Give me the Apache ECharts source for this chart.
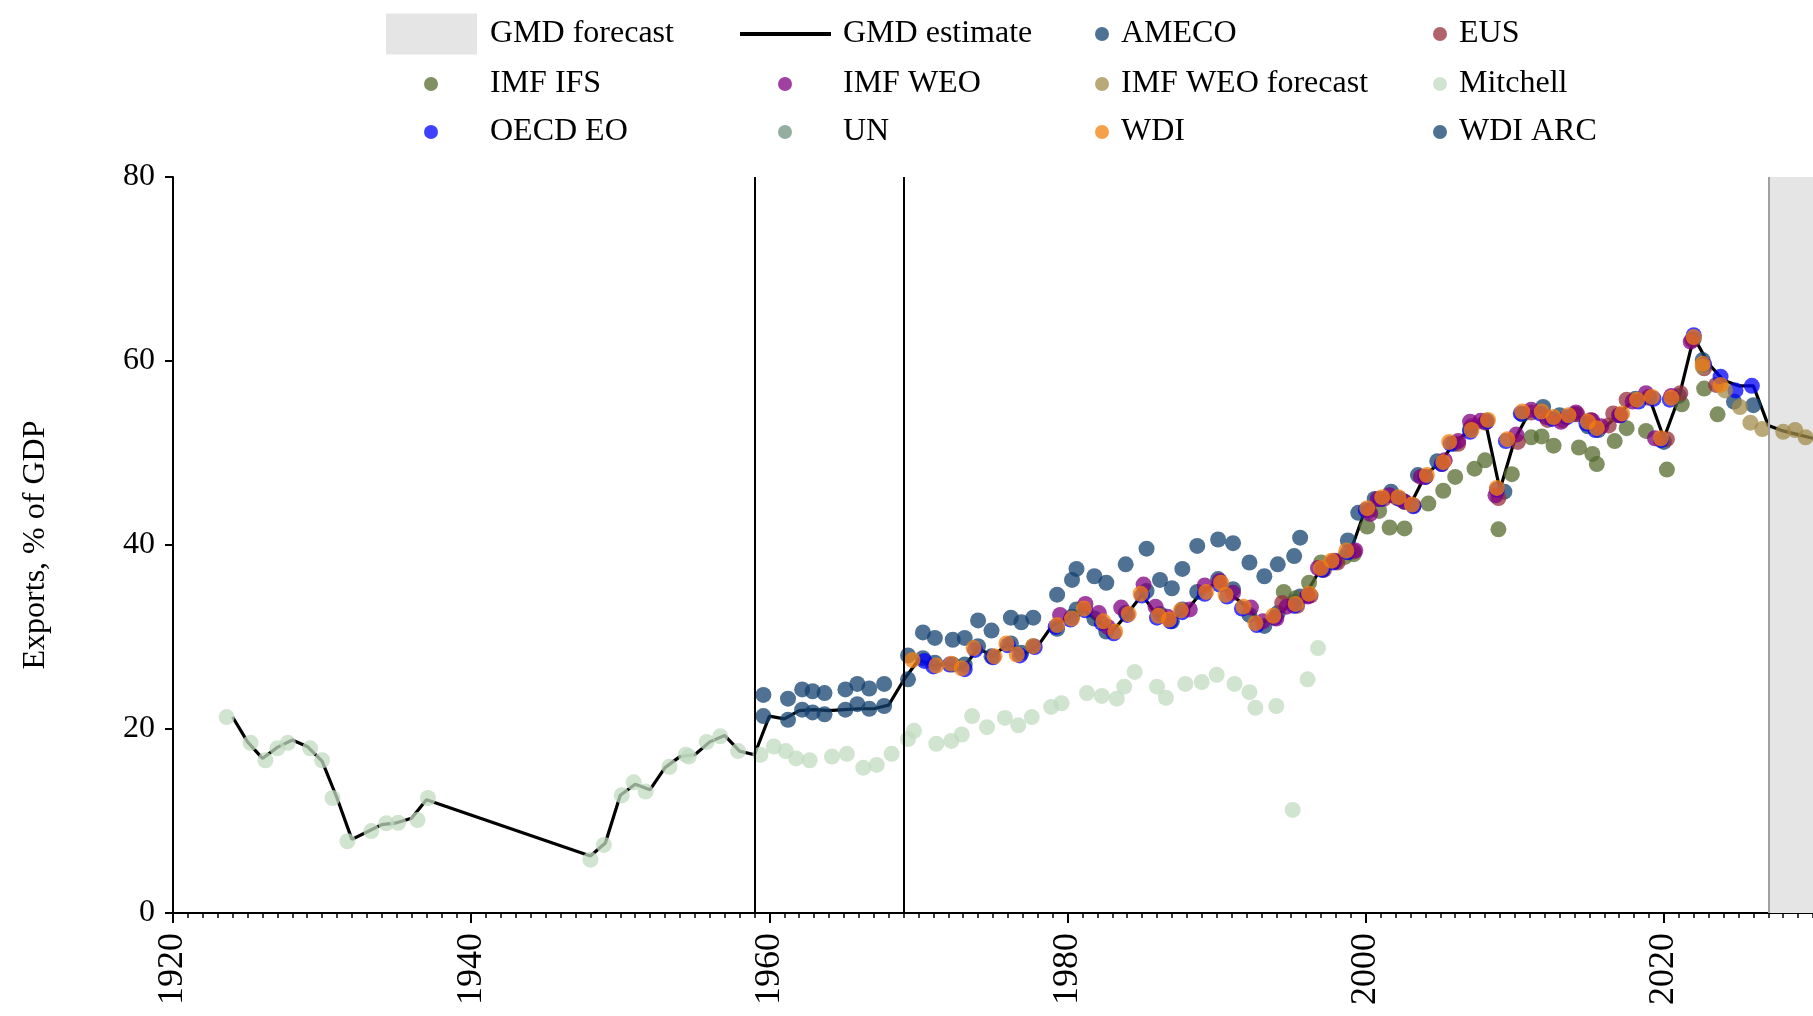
<!DOCTYPE html>
<html><head><meta charset="utf-8">
<script src="https://cdn.jsdelivr.net/npm/echarts@6/dist/echarts.min.js"></script>
<style>html,body{margin:0;padding:0;background:#fff}#c{width:1813px;height:1016px}</style>
</head><body><div id="c"></div>
<script>
// ---------------- data ----------------
const gmdYears = [1924,1925,1926,1927,1928,1929,1930,1931,1932,1933,1934,1935,1936,1937,
  1948,1949,1950,1951,1952,1953,1954,1955,1956,1957,1958,1959,
  1960,1961,1962,1963,1964,1965,1966,1967,1968,1969,1970,1971,1972,1973,1974,1975,1976,1977,1978,1979,
  1980,1981,1982,1983,1984,1985,1986,1987,1988,1989,1990,1991,1992,1993,1994,1995,1996,1997,1998,1999,
  2000,2001,2002,2003,2004,2005,2006,2007,2008,2009,2010,2011,2012,2013,2014,2015,2016,2017,2018,2019,
  2020,2021,2022,2023,2024,2025,2026,2027,2028,2029,2030];
const gmdValues = [21.3,18.6,16.8,18.0,18.8,18.1,16.5,12.5,8.0,8.8,9.6,9.8,10.3,12.3,
  6.2,7.6,12.8,14.0,13.4,15.8,17.0,17.2,18.6,19.3,17.6,17.2,
  21.4,21.1,22.0,22.1,22.0,22.1,22.2,22.2,22.6,25.3,27.5,26.9,27.1,26.6,28.8,27.9,29.3,28.1,29.0,31.3,
  32.0,33.1,31.7,30.6,32.5,34.6,32.3,31.9,32.9,34.9,35.9,34.6,33.3,31.5,32.3,33.6,34.7,37.5,38.3,39.4,
  44.0,45.2,45.2,44.4,47.6,49.0,51.2,52.5,53.6,46.0,51.5,54.5,54.5,53.9,54.1,53.4,52.7,54.3,55.8,56.1,
  51.6,56.0,62.6,59.7,57.9,57.3,57.3,53.0,52.4,52.0,51.6];

const amecoPoints = [[1959.6,23.7],[1961.25,23.3],[1962.2,24.3],[1962.9,24.1],[1963.7,23.9],[1965.1,24.3],[1965.9,24.9],[1966.7,24.4],[1967.7,24.9],[1969.3,28.0],[1970.3,30.5],[1971.1,29.9],[1972.3,29.7],[1973.1,29.9],[1974.0,31.8],[1974.9,30.7],[1976.2,32.1],[1976.9,31.6],[1977.7,32.1],[1979.3,34.6],[1980.3,36.2],[1980.6,37.4],[1981.8,36.6],[1982.6,35.9],[1983.9,37.9],[1985.3,39.6],[1986.2,36.2],[1987.0,35.3],[1987.7,37.4],[1988.7,39.9],[1990.1,40.6],[1991.1,40.2],[1992.2,38.1],[1993.2,36.6],[1994.1,37.9],[1995.2,38.8],[1995.6,40.8],[2005.9,51.0],[2007.0,52.6],[2008.1,53.5],[2009.3,45.8],[2010.5,54.2],[2011.9,55.0],[2013.0,54.1],[2014.0,54.2],[2014.9,52.9],[2015.6,52.5],[2017.0,54.1],[2018.1,55.9],[2019.0,56.1],[2020.0,51.2],[2021.0,56.2],[2022.0,62.4],[2022.6,60.1],[2024.7,55.6],[2026.0,55.2]];

const eusPoints = [[1994.4,33.7],[1995.4,33.4],[1996.3,34.5],[1997.2,37.3],[1998.1,38.1],[1999.2,39.3],[2000.2,43.7],[2001.2,45.0],[2002.1,45.1],[2003.2,44.3],[2004.0,47.4],[2005.1,48.8],[2006.2,51.0],[2007.1,52.9],[2008.0,53.3],[2008.9,45.1],[2010.2,51.2],[2011.1,54.4],[2012.2,53.6],[2013.2,53.6],[2014.2,54.2],[2015.1,53.6],[2016.3,53.0],[2016.6,54.3],[2017.5,55.8],[2019.0,56.0],[2020.2,51.5],[2021.1,56.5],[2021.9,62.3],[2022.7,59.2],[2023.5,57.4]];

const imfIfsPoints = [[1994.5,34.9],[1995.3,34.2],[1996.2,35.9],[1997.0,38.1],[1998.6,38.7],[1999.2,39.0],[2000.1,42.0],[2000.9,43.7],[2001.6,41.9],[2002.6,41.8],[2004.2,44.5],[2005.2,45.9],[2006.0,47.4],[2007.3,48.3],[2008.0,49.2],[2008.9,41.7],[2009.8,47.7],[2011.1,51.7],[2011.8,51.8],[2012.6,50.8],[2014.3,50.6],[2015.2,49.9],[2015.5,48.8],[2016.7,51.3],[2017.5,52.7],[2018.8,52.4],[2020.2,48.2],[2021.2,55.3],[2022.7,57.0],[2023.6,54.2]];

const imfWeoPoints = [[1979.5,32.4],[1981.2,33.6],[1982.1,32.6],[1982.7,31.1],[1983.6,33.2],[1985.1,35.7],[1985.9,33.3],[1986.7,32.2],[1988.2,33.0],[1989.2,35.6],[1990.2,36.1],[1991.1,34.8],[1992.3,33.2],[1993.1,31.7],[1994.0,32.0],[1994.7,33.3],[1996.1,34.4],[1996.8,37.5],[1997.9,38.3],[1999.3,39.4],[2000.3,43.4],[2000.8,45.0],[2001.6,45.4],[2002.6,44.7],[2003.7,47.4],[2005.3,49.2],[2006.2,51.3],[2007.0,53.4],[2007.7,53.5],[2008.7,45.4],[2010.1,52.0],[2011.1,54.7],[2012.1,53.9],[2013.1,53.4],[2014.1,54.4],[2015.2,53.5],[2015.8,52.9],[2017.0,54.1],[2017.9,55.6],[2018.8,56.5],[2019.4,51.6],[2020.5,56.2],[2021.8,62.1]];

const imfWeoForecastPoints = [[2022.6,59.4],[2024.1,56.8],[2025.1,55.0],[2025.8,53.3],[2026.6,52.6],[2028.0,52.3],[2028.8,52.5],[2029.5,51.7]];

const mitchellPoints = [[1923.6,21.3],[1925.2,18.5],[1926.2,16.6],[1927.0,17.9],[1927.7,18.5],[1929.2,17.9],[1930.0,16.6],[1930.7,12.5],[1931.7,7.8],[1933.3,8.9],[1934.3,9.75],[1935.1,9.8],[1936.4,10.1],[1937.1,12.5],
  [1948.0,5.8],[1948.9,7.4],[1950.1,12.8],[1950.9,14.2],[1951.7,13.2],[1953.3,15.9],[1954.4,17.2],[1954.6,17.0],[1955.8,18.6],[1956.7,19.2],[1957.9,17.6],[1959.4,17.2],
  [1960.3,18.1],[1961.1,17.6],[1961.8,16.8],[1962.7,16.6],[1964.2,17.0],[1965.2,17.3],[1966.3,15.8],[1967.2,16.1],[1968.2,17.3],[1969.3,18.9],[1969.7,19.8],[1971.2,18.4],[1972.2,18.7],[1972.9,19.4],[1973.6,21.4],[1974.6,20.2],[1975.8,21.2],[1976.7,20.4],[1977.6,21.3],[1978.9,22.4],[1979.6,22.8],[1981.3,23.9],[1982.3,23.6],[1983.3,23.3],[1983.8,24.6],[1984.5,26.2],[1986.0,24.6],[1986.6,23.4],[1987.9,24.9],[1989.0,25.1],[1990.0,25.9],[1991.2,24.9],[1992.2,24.0],[1992.6,22.3],[1994.0,22.5],[1995.1,11.2],[1996.1,25.4],[1996.8,28.8]];

const oecdEoPoints = [[1970.4,27.4],[1971.0,26.8],[1972.1,27.0],[1973.1,26.5],[1973.8,28.6],[1975.0,27.8],[1976.0,29.1],[1976.8,28.0],[1977.8,28.9],[1979.2,31.1],[1980.2,31.9],[1981.2,32.9],[1982.3,31.5],[1983.1,30.4],[1984.0,32.4],[1985.0,34.5],[1986.0,32.1],[1986.9,31.7],[1987.7,32.7],[1989.2,34.7],[1990.2,35.7],[1990.7,34.4],[1991.7,33.1],[1992.7,31.3],[1993.9,32.1],[1995.2,33.4],[1996.1,34.5],[1997.1,37.3],[1997.8,38.1],[1998.8,39.2],[2000.0,43.8],[2001.0,45.0],[2002.3,45.0],[2003.2,44.2],[2004.0,47.4],[2005.1,48.8],[2005.7,51.0],[2007.0,52.3],[2008.1,53.4],[2008.8,46.0],[2009.4,51.3],[2010.4,54.3],[2011.7,54.3],[2012.5,53.7],[2013.5,53.9],[2014.8,53.2],[2015.4,52.5],[2017.1,54.1],[2018.3,55.6],[2019.3,55.9],[2019.8,51.4],[2020.4,55.8],[2022.0,62.8],[2022.7,59.6],[2023.8,58.3],[2024.8,56.8],[2025.9,57.3]];

const unPoints = [];

const wdiPoints = [[1969.6,27.5],[1971.2,26.9],[1972.2,27.1],[1972.9,26.6],[1973.7,28.8],[1975.1,27.9],[1975.9,29.3],[1976.6,28.1],[1977.7,29.0],[1979.3,31.3],[1980.3,32.0],[1981.1,33.1],[1982.4,31.7],[1983.2,30.6],[1984.1,32.5],[1984.9,34.7],[1986.1,32.3],[1986.8,31.9],[1987.6,32.9],[1989.3,34.9],[1990.3,35.9],[1990.6,34.6],[1991.8,33.3],[1992.6,31.5],[1993.8,32.3],[1995.3,33.6],[1996.2,34.7],[1997.0,37.5],[1997.7,38.3],[1998.7,39.4],[2000.1,44.0],[2001.1,45.2],[2002.2,45.2],[2003.1,44.4],[2004.1,47.6],[2005.2,49.0],[2005.6,51.2],[2007.1,52.5],[2008.2,53.6],[2008.8,46.2],[2009.5,51.5],[2010.5,54.5],[2011.8,54.5],[2012.6,53.9],[2013.6,54.1],[2014.9,53.4],[2015.5,52.7],[2017.2,54.3],[2018.2,55.8],[2019.2,56.1],[2019.8,51.6],[2020.5,56.0],[2022.0,62.6],[2022.6,59.7],[2023.8,57.4]];

const wdiArcPoints = [[1959.6,21.4],[1961.25,21.0],[1962.2,22.1],[1962.9,21.8],[1963.7,21.6],[1965.1,22.1],[1965.9,22.7],[1966.7,22.2],[1967.7,22.5],[1969.3,25.4],[1970.3,27.7],[1971.1,27.2],[1972.3,27.0],[1973.1,27.0],[1974.0,29.0],[1974.9,27.9],[1976.2,29.3],[1976.9,28.3],[1977.7,29.0],[1979.3,30.9],[1980.3,32.2],[1980.6,33.0],[1981.8,32.0],[1982.6,30.6],[1983.9,32.6],[1985.3,35.0],[1986.2,32.5],[1987.0,31.7],[1987.7,33.0],[1988.7,34.9],[1990.1,36.3],[1991.1,35.2],[1992.2,32.4],[1993.2,31.2],[1994.1,32.6],[1995.2,33.8],[1995.6,34.4],[1997.1,37.3],[1998.0,38.2],[1998.8,40.5],[1999.5,43.5],[2000.6,45.0],[2001.7,45.8],[2002.6,44.7],[2003.5,47.6],[2004.8,49.1]];

const regimeBreaks = [1959, 1969];
const forecastRange = [2027, 2030];
const xTickLabels = [1920, 1940, 1960, 1980, 2000, 2020];
const yTickLabels = [0, 20, 40, 60, 80];

// ---------------- chart ----------------
const FONT = 'Liberation Serif';
const chart = echarts.init(document.getElementById('c'));
const gmdLine = gmdYears.map((y, i) => [y, gmdValues[i]]);

function scatter(name, color, data) {
  return { name, type: 'scatter', data, symbol: 'circle', symbolSize: 16,
    itemStyle: { color, opacity: 0.75 }, emphasis: { disabled: true }, z: 3 };
}

// legend layout: [name, column, row]
const legendCells = [
  ['GMD forecast', 0, 0], ['GMD estimate', 1, 0], ['AMECO', 2, 0], ['EUS', 3, 0],
  ['IMF IFS', 0, 1], ['IMF WEO', 1, 1], ['IMF WEO forecast', 2, 1], ['Mitchell', 3, 1],
  ['OECD EO', 0, 2], ['UN', 1, 2], ['WDI', 2, 2], ['WDI ARC', 3, 2]
];
const colHandleLeft = [386, 740];          // rect / line handles
const colMarkerCenter = [431, 785, 1102, 1440];
const colTextLeft = [490, 843, 1121, 1459];
const rowCenter = [34, 84, 132];
const R = 7; // legend marker radius

const legends = legendCells.map(([name, c, r]) => {
  const base = { padding: 0, orient: 'horizontal', selectedMode: false,
    textStyle: { fontFamily: FONT, fontSize: 32, color: '#000', lineHeight: 40 } };
  if (name === 'GMD forecast' || name === 'GMD estimate') {
    const rect = name === 'GMD forecast';
    const iw = 91, ih = rect ? 41 : 4;
    const h = Math.max(ih, 40);
    base.textStyle.padding = [0, 0, 0, colTextLeft[c] - (colHandleLeft[c] + iw + 5)];
    return Object.assign(base, { left: colHandleLeft[c], top: rowCenter[r] - h / 2,
      itemWidth: iw, itemHeight: ih,
      data: [{ name, icon: 'rect', itemStyle: rect ? { color: '#e5e5e5', opacity: 1 } : { color: '#000', opacity: 1 } }] });
  }
  const iw = 28, ih = 2 * R;
  // bounding box of legend content starts at the marker's left edge
  base.textStyle.padding = [0, 0, 0, Math.max(0, colTextLeft[c] - (colMarkerCenter[c] + iw / 2 + 5))];
  return Object.assign(base, { left: colMarkerCenter[c] - R, top: rowCenter[r] - 20,
    itemWidth: iw, itemHeight: ih, data: [{ name, icon: 'circle' }] });
});

const axisLineStyle = { color: '#000', width: 2 };
const option = {
  animation: false,
  backgroundColor: '#fff',
  textStyle: { fontFamily: FONT },
  legend: legends,
  grid: { left: 173, right: 0, top: 177, bottom: 103, containLabel: false },
  xAxis: [{
    type: 'value', min: 1920, max: 2030, interval: 10, position: 'bottom',
    axisLine: { show: true, onZero: false, lineStyle: axisLineStyle },
    axisTick: { show: true, length: 5, lineStyle: { color: '#000', width: 1.5 } },
    minorTick: { show: true, splitNumber: 10, length: 5, lineStyle: { color: '#000', width: 1.5 } },
    axisLabel: { show: false },
    splitLine: { show: false }, minorSplitLine: { show: false }
  }, {
    type: 'value', min: 1920, max: 2030, interval: 20, position: 'bottom', offset: 0,
    axisLine: { show: false, onZero: false },
    axisTick: { show: true, length: 10, lineStyle: { color: '#000', width: 2 } },
    minorTick: { show: false },
    axisLabel: { rotate: 90, fontFamily: FONT, fontSize: 36, color: '#000', margin: 20,
      showMaxLabel: false, formatter: v => xTickLabels.includes(v) ? String(v) : '' },
    splitLine: { show: false }
  }],
  yAxis: {
    type: 'value', min: 0, max: 80, interval: 20,
    axisLine: { show: true, onZero: false, lineStyle: axisLineStyle },
    axisTick: { show: true, length: 8, lineStyle: { color: '#000', width: 2 } },
    axisLabel: { fontFamily: FONT, fontSize: 32, color: '#000', margin: 18,
      formatter: v => yTickLabels.includes(v) ? String(v) : '' },
    splitLine: { show: false },
    name: 'Exports, % of GDP', nameLocation: 'middle', nameGap: 121,
    nameTextStyle: { fontFamily: FONT, fontSize: 32, color: '#000' }
  },
  series: [
    { name: 'GMD forecast', type: 'line', data: [], itemStyle: { color: '#e5e5e5' }, silent: true },
    { name: 'GMD estimate', type: 'line', data: gmdLine, symbol: 'none', z: 2,
      lineStyle: { color: '#000', width: 3.2 }, itemStyle: { color: '#000' }, silent: true,
      markArea: { silent: true, itemStyle: { color: '#e5e5e5' },
        data: [[{ xAxis: forecastRange[0] }, { xAxis: forecastRange[1] }]] },
      markLine: { silent: true, symbol: ['none', 'none'], label: { show: false },
        data: regimeBreaks.map(x => ({ xAxis: x, lineStyle: { color: '#000', width: 2, type: 'solid' } }))
          .concat([{ xAxis: forecastRange[0], lineStyle: { color: '#a0a0a0', width: 2, type: 'solid' } }]) } },
    scatter('Mitchell', '#c0dbc0', mitchellPoints),
    scatter('UN', '#709380', unPoints),
    scatter('AMECO', '#14426f', amecoPoints),
    scatter('WDI ARC', '#14426f', wdiArcPoints),
    scatter('IMF IFS', '#556b2f', imfIfsPoints),
    scatter('EUS', '#952f3a', eusPoints),
    scatter('OECD EO', '#0000ff', oecdEoPoints),
    scatter('IMF WEO', '#800080', imfWeoPoints),
    scatter('IMF WEO forecast', '#a18b4b', imfWeoForecastPoints),
    scatter('WDI', '#f4800e', wdiPoints)
  ]
};
chart.setOption(option);
</script>
</body></html>
